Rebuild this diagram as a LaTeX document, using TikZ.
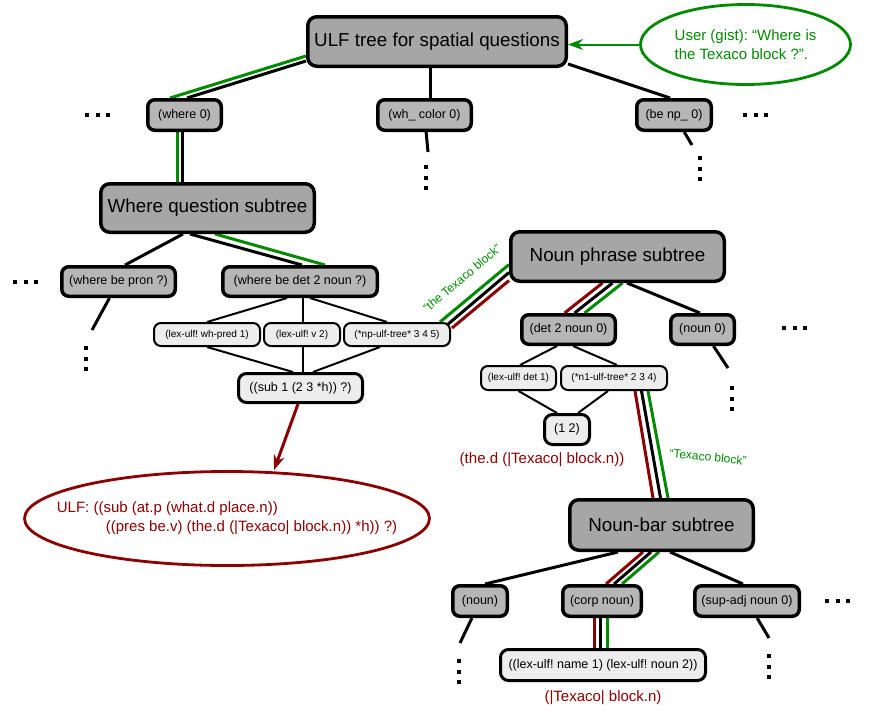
\documentclass[tikz,border=0pt]{standalone}
\usepackage{fontspec}
\setmainfont{Liberation Sans}
\usetikzlibrary{positioning,arrows.meta,shapes.geometric,backgrounds}
\definecolor{boxdark}{HTML}{A6A6A6}
\definecolor{boxmid}{HTML}{B6B6B6}
\definecolor{boxlight}{HTML}{EDEDED}
\definecolor{ulfgreen}{HTML}{008A00}
\definecolor{ulfred}{HTML}{8B0000}
\frenchspacing

\newcommand\hdotrow[2]{\foreach \k in {0,1,2}{\fill ({#1+10.5*\k-2},{#2-2}) rectangle ++(4,4);}}
\newcommand\vdotcol[2]{\foreach \k in {0,1,2}{\fill ({#1-2},{#2+10.5*\k-2}) rectangle ++(4,4);}}

\begin{document}
\begin{tikzpicture}[
      x=1pt, y=-1pt,
      bigbox/.style={draw=black,line width=3.5pt,rounded corners=9pt,fill=boxdark,inner sep=0pt,align=center,font=\fontsize{18.8}{22}\selectfont},
      box/.style={draw=black,line width=3.5pt,rounded corners=7pt,fill=boxmid,inner sep=0pt,minimum height=30.5pt,font=\fontsize{12.5}{15}\selectfont},
      lexbox/.style={draw=black,line width=2pt,rounded corners=7pt,fill=boxlight,inner sep=0pt,minimum height=23pt,font=\fontsize{10}{12}\selectfont},
      resbox/.style={draw=black,line width=3pt,rounded corners=8pt,fill=boxlight,inner sep=0pt,minimum height=30pt,font=\fontsize{12.5}{15}\selectfont},
      bubble/.style={ellipse,line width=2.8pt,inner sep=0pt,align=left,font=\fontsize{15}{19}\selectfont},
      link/.style={line width=3pt},
      twig/.style={line width=2pt},
      grn/.style={link,draw=ulfgreen},
      rd/.style={link,draw=ulfred},
      note/.style={inner sep=0pt,text=ulfgreen,font=\fontsize{12}{14}\selectfont},
      redlbl/.style={inner sep=0pt,text=ulfred,font=\fontsize{15}{18}\selectfont},
      arr/.style={-{Stealth[length=15pt,width=11pt]}}
    ]
    \useasboundingbox (0,0) rectangle (882,720);

    % top level
    \node[bigbox, minimum width=258.5pt, minimum height=49.5pt] (root) at (437,41.5) {ULF tree for spatial questions};
    \node[bubble, draw=ulfgreen, text=ulfgreen, minimum width=210pt, minimum height=80pt] (user) at (745.5,44.5) {User (gist): “Where is\\the Texaco block ?”.};
    \node[box, minimum width=73.5pt] (w0) at (184.5,115) {(where 0)};
    \node[box, minimum width=93.5pt] (whc) at (424.5,115) {(wh\_ color 0)};
    \node[box, minimum width=74.5pt] (benp) at (674,115) {(be np\_ 0)};

    % where question subtree
    \node[bigbox, minimum width=213.5pt, minimum height=48.5pt] (wqs) at (207.5,208) {Where question subtree};
    \node[box, minimum width=113.5pt, minimum height=29.5pt] (wbp) at (118.5,281.5) {(where be pron ?)};
    \node[box, minimum width=154.5pt, minimum height=29.5pt] (wbd) at (300,281.5) {(where be det 2 noun ?)};
    \node[lexbox, minimum width=106pt] (lwh) at (207,334.5) {(lex-ulf! wh-pred 1)};
    \node[lexbox, minimum width=76pt] (lv) at (302,334.5) {(lex-ulf! v 2)};
    \node[lexbox, minimum width=106pt] (lnp) at (397,334.5) {(*np-ulf-tree* 3 4 5)};
    \node[resbox, minimum width=124pt, minimum height=29pt] (sub) at (300.5,388) {((sub 1 (2 3 *h)) ?)};
    \node[bubble, draw=ulfred, text=ulfred, inner xsep=-60pt, minimum width=405pt, minimum height=94pt] (ulf) at (227,518.5) {ULF: ((sub (at.p (what.d place.n))\\\hspace*{49pt}((pres be.v) (the.d (|Texaco| block.n)) *h)) ?)};

    % noun phrase subtree
    \node[bigbox, minimum width=213.5pt, minimum height=49.5pt] (nps) at (617.5,256.5) {Noun phrase subtree};
    \node[box, minimum width=93.5pt, minimum height=29.5pt] (d2n) at (568.5,329.5) {(det 2 noun 0)};
    \node[box, minimum width=63.5pt, minimum height=29.5pt] (n0) at (702.5,329.5) {(noun 0)};
    \node[lexbox, minimum width=75pt, minimum height=24pt] (ldet) at (518.5,378) {(lex-ulf! det 1)};
    \node[lexbox, minimum width=106pt, minimum height=24pt] (n1) at (614,378) {(*n1-ulf-tree* 2 3 4)};
    \node[resbox, minimum width=45pt] (one2) at (567,429.5) {(1 2)};
    \node[redlbl] (npulf) at (542,460) {(the.d (|Texaco| block.n))};

    % noun-bar subtree
    \node[bigbox, minimum width=183.5pt, minimum height=50.5pt] (nbs) at (661.5,525) {Noun-bar subtree};
    \node[box, minimum width=54.5pt] (nn) at (480,601) {(noun)};
    \node[box, minimum width=78.5pt] (corp) at (602,601) {(corp noun)};
    \node[box, minimum width=104.5pt] (sup) at (747,601) {(sup-adj noun 0)};
    \node[resbox, minimum width=205pt, minimum height=31pt] (lname) at (603,665) {((lex-ulf! name 1) (lex-ulf! noun 2))};
    \node[redlbl] (nbulf) at (603,698) {(|Texaco| block.n)};

    \node[note, rotate=40] (npnote) at (462,278) {“the Texaco block”};
    \node[note, rotate=-6] (nbnote) at (708,457) {“Texaco block”};

    \coordinate (whcend) at (428,152);
    \coordinate (benpend) at (692,145);
    \coordinate (wbpend) at (92,330);
    \coordinate (n0end) at (728,368);
    \coordinate (nnend) at (460,643);
    \coordinate (supend) at (769,638);

    \begin{scope}[on background layer]
      \draw[link] ([yshift=7pt]root.south west) -- ([xshift=2.5pt]w0.north);
      \draw[grn] ([yshift=12pt]root.south west) -- ([xshift=-14.5pt]w0.north);
      \draw[link] ([xshift=-7pt]root.south) -- ([xshift=5.5pt]whc.north);
      \draw[link] ([yshift=4pt]root.south east) -- ([xshift=-4pt]benp.north);
      \draw[link] ([xshift=-2pt]w0.south) -- ([xshift=-2pt]w0.south |- wqs.north);
      \draw[grn] ([xshift=-7pt]w0.south) -- ([xshift=-7pt]w0.south |- wqs.north);

      \draw[link] ([xshift=-24.5pt]wqs.south) -- ([xshift=6.5pt]wbp.north);
      \draw[link] ([xshift=-17.5pt]wqs.south) -- ([xshift=2pt]wbd.north);
      \draw[grn] ([xshift=7.5pt]wqs.south) -- ([xshift=25pt]wbd.north);
      \draw[twig] ([xshift=-13pt]wbd.south) -- (lwh.north);
      \draw[twig] ([xshift=3pt]wbd.south) -- ([xshift=1pt]lv.north);
      \draw[twig] ([xshift=10pt]wbd.south) -- ([xshift=-10pt]lnp.north);
      \draw[twig] (lwh.south) -- ([xshift=-7.5pt]sub.north);
      \draw[twig] ([xshift=1pt]lv.south) -- ([xshift=2.5pt]sub.north);
      \draw[twig] ([xshift=-17pt]lnp.south) -- ([xshift=12.5pt]sub.north);

      \draw[grn] ([xshift=-11pt]lnp.north east) -- ([yshift=-8pt]nps.west);
      \draw[link] ([xshift=-4pt,yshift=-3pt]lnp.north east) -- ([yshift=-16pt]nps.west);
      \draw[rd] ([xshift=1pt,yshift=-6pt]lnp.north east) -- ([yshift=-24pt]nps.west);

      \draw[rd] ([xshift=-15pt]nps.south) -- ([xshift=-4pt]d2n.north);
      \draw[link] ([xshift=-5pt]nps.south) -- ([xshift=6pt]d2n.north);
      \draw[grn] ([xshift=5pt]nps.south) -- ([xshift=16pt]d2n.north);
      \draw[link] ([xshift=9.5pt]nps.south) -- ([xshift=-2.5pt]n0.north);
      \draw[twig] ([xshift=-11.5pt]d2n.south) -- ([xshift=1.5pt]ldet.north);
      \draw[twig] ([xshift=4.5pt]d2n.south) -- ([xshift=3pt]n1.north);
      \draw[twig] (ldet.south) -- ([xshift=-10pt]one2.north);
      \draw[twig] ([xshift=-6pt]n1.south) -- ([xshift=11pt]one2.north);

      \draw[rd] ([xshift=21pt]n1.south) -- ([xshift=-8.5pt]nbs.north);
      \draw[link] ([xshift=27.5pt]n1.south) -- ([xshift=-1pt]nbs.north);
      \draw[grn] ([xshift=34pt]n1.south) -- ([xshift=6.5pt]nbs.north);

      \draw[link] ([xshift=-43.5pt]nbs.south) -- ([xshift=5pt]nn.north);
      \draw[rd] ([xshift=-18.5pt]nbs.south) -- ([xshift=4pt]corp.north);
      \draw[link] ([xshift=-10.5pt]nbs.south) -- ([xshift=12pt]corp.north);
      \draw[grn] ([xshift=-2.5pt]nbs.south) -- ([xshift=20pt]corp.north);
      \draw[link] ([xshift=8.5pt]nbs.south) -- ([xshift=-4pt]sup.north);
      \draw[rd] ([xshift=-8pt]corp.south) -- ([xshift=-8pt]corp.south |- lname.north);
      \draw[link] ([xshift=-1.5pt]corp.south) -- ([xshift=-1.5pt]corp.south |- lname.north);
      \draw[grn] ([xshift=5pt]corp.south) -- ([xshift=5pt]corp.south |- lname.north);

      % stubs to the dots
      \draw[link] (whc) -- (whcend);
      \draw[link] (benp) -- (benpend);
      \draw[link] (wbp) -- (wbpend);
      \draw[link] (n0) -- (n0end);
      \draw[link] (nn) -- (nnend);
      \draw[link] (sup) -- (supend);
    \end{scope}

    \draw[arr, ulfgreen, line width=2pt] (user.west) -- (user.west -| root.east);
    \draw[rd, arr] ([xshift=-2.5pt]sub.south) -- ([xshift=47pt]ulf.north);

    \hdotrow{87}{115}
    \hdotrow{745}{115}
    \hdotrow{15}{282}
    \hdotrow{784}{328}
    \hdotrow{827}{601}
    \vdotcol{426}{167}
    \vdotcol{700}{158}
    \vdotcol{86}{348}
    \vdotcol{732}{388}
    \vdotcol{459}{661}
    \vdotcol{769}{656}
  \end{tikzpicture}
\end{document}
